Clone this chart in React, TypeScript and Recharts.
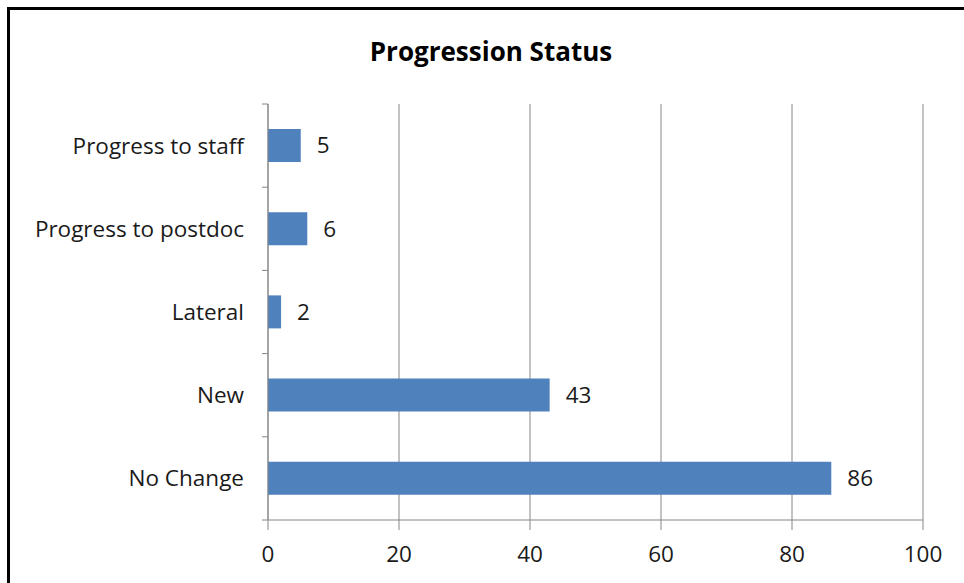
import { BarChart, Bar, XAxis, YAxis, CartesianGrid, LabelList } from 'recharts'

const categories = ['Progress to staff', 'Progress to postdoc', 'Lateral', 'New', 'No Change']
const counts = [5, 6, 2, 43, 86]
const xTicks = [0, 20, 40, 60, 80, 100]

const data = categories.map((name, i) => ({ name, value: counts[i] }))

const FONT = '"Open Sans", sans-serif'
const AXIS = '#868686'
const PLOT_LEFT = 268
const PLOT_TOP = 104
const PLOT_BOTTOM = 520
const BAND = (PLOT_BOTTOM - PLOT_TOP) / categories.length

function CategoryTick(props: any) {
  const { x, y, payload, index } = props
  const half = BAND / 2
  return (
    <g>
      <line x1={PLOT_LEFT - 6} x2={PLOT_LEFT} y1={y - half} y2={y - half} stroke={AXIS} />
      {index === categories.length - 1 && (
        <line x1={PLOT_LEFT - 6} x2={PLOT_LEFT} y1={y + half} y2={y + half} stroke={AXIS} />
      )}
      <text x={x} y={y} dy={8} textAnchor="end" fontSize={22.5} fill="#1a1a1a" fontFamily={FONT}>
        {payload.value}
      </text>
    </g>
  )
}

export default function App() {
  return (
    <div style={{ position: 'absolute', left: 0, top: 0, width: 964, height: 583, background: '#fff', overflow: 'hidden' }}>
      <div
        style={{
          position: 'absolute', left: 7, top: 7, width: 1000, height: 700,
          borderLeft: '3px solid #000', borderTop: '3px solid #000',
        }}
      />
      <div
        style={{
          position: 'absolute', left: 0, width: 982, top: 33, textAlign: 'center',
          fontFamily: FONT, fontWeight: 'bold', fontSize: 26, color: '#000',
        }}
      >
        Progression Status
      </div>
      <div style={{ position: 'absolute', left: 0, top: 0 }}>
        <BarChart
          width={964}
          height={583}
          data={data}
          layout="vertical"
          margin={{ top: PLOT_TOP, right: 41, bottom: 0, left: 0 }}
        >
          <CartesianGrid horizontal={false} stroke={AXIS} />
          <XAxis
            type="number"
            domain={[0, 100]}
            ticks={xTicks}
            stroke={AXIS}
            tickSize={10}
            tick={{ fontSize: 22.5, fill: '#1a1a1a', fontFamily: FONT }}
            tickMargin={16}
            height={583 - PLOT_BOTTOM}
          />
          <YAxis
            type="category"
            dataKey="name"
            width={PLOT_LEFT}
            stroke={AXIS}
            tickLine={false}
            tick={<CategoryTick />}
            tickMargin={18}
          />
          <Bar dataKey="value" fill="#4F81BD" barSize={33} isAnimationActive={false}>
            <LabelList
              dataKey="value"
              position="right"
              offset={16}
              fontSize={22.5}
              fill="#1a1a1a"
              fontFamily={FONT}
            />
          </Bar>
        </BarChart>
      </div>
    </div>
  )
}
